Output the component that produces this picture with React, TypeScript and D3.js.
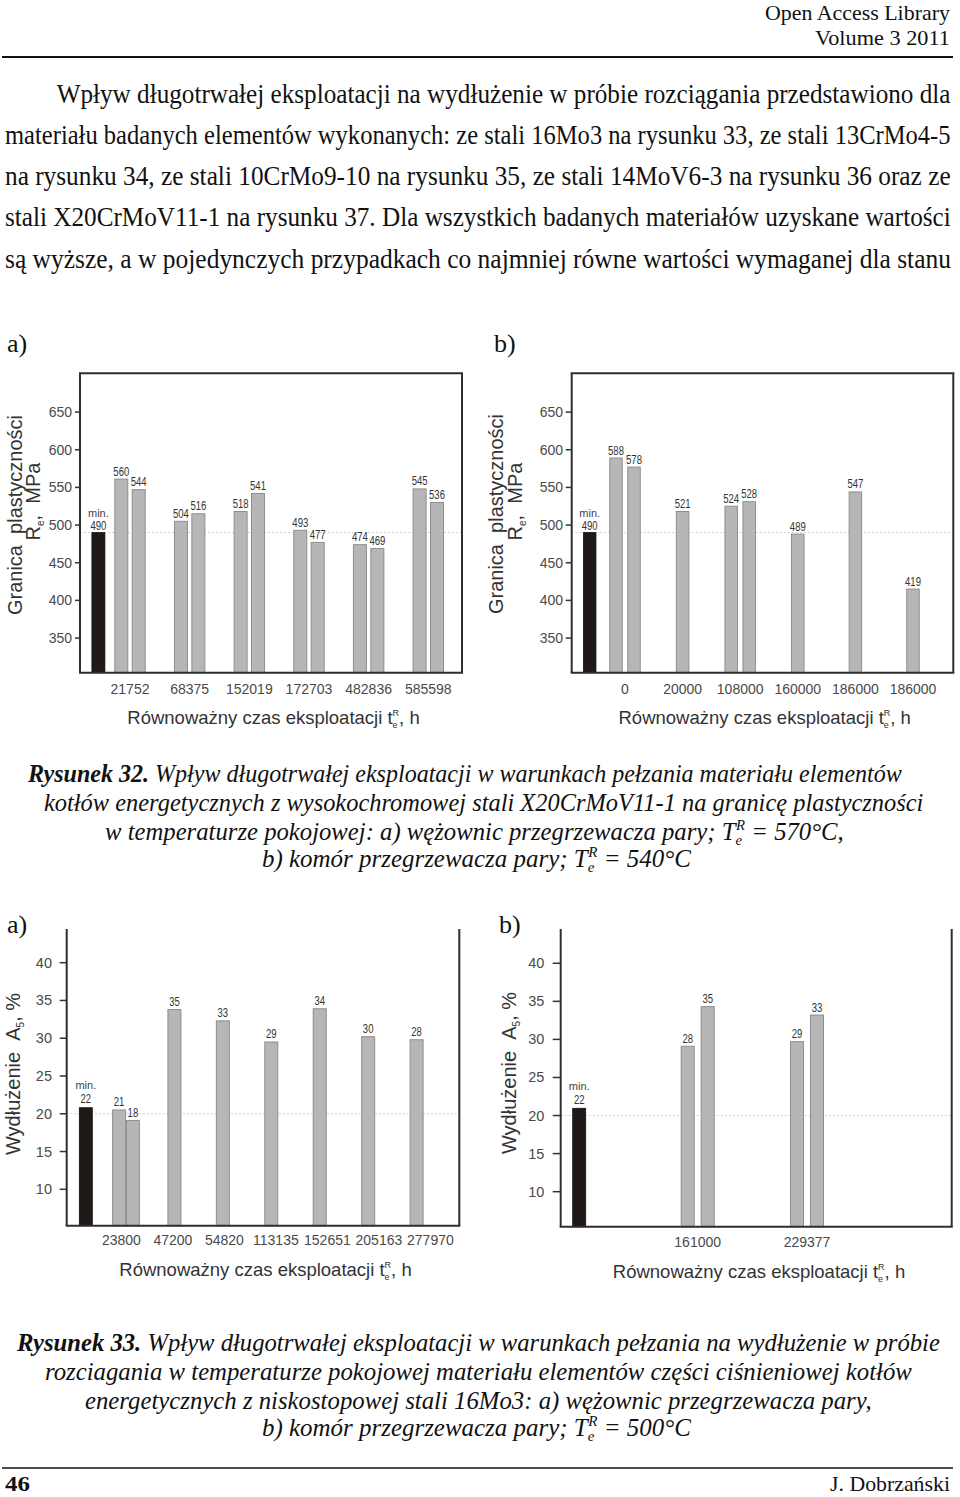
import React, { useLayoutEffect, useRef, useState } from "react";
import * as d3 from "d3";

const SERIF = "'Liberation Serif','Times New Roman',serif";
const SANS = "'Liberation Sans',Arial,sans-serif";

// ---------- DATA ----------
// Rysunek 32 a) granica plastyczności, wężownice
const fig32aCategories = ["21752", "68375", "152019", "172703", "482836", "585598"];
const fig32aLabels = [[560, 544], [504, 516], [518, 541], [493, 477], [474, 469], [545, 536]];
const fig32aHeights = [[561, 547], [505, 515], [518, 542], [493, 477], [474, 469], [548, 530]];
// Rysunek 32 b) komory
const fig32bCategories = ["0", "20000", "108000", "160000", "186000", "186000"];
const fig32bLabels = [[588, 578], [521], [524, 528], [489], [547], [419]];
const fig32bHeights = [[589, 577], [518], [525, 531], [488], [544], [415]];
const reMinLabel = 490;
const reMinHeight = 490;
const reRefLine = 490;
const reTicks = [350, 400, 450, 500, 550, 600, 650];

// Rysunek 33 a) wydłużenie, wężownice
const fig33aCategories = ["23800", "47200", "54820", "113135", "152651", "205163", "277970"];
const fig33aLabels = [[21, 18], [35], [33], [29], [34], [30], [28]];
const fig33aHeights = [[20.5, 19.1], [33.8], [32.3], [29.5], [33.9], [30.2], [29.8]];
const fig33aMinHeight = 20.8;
// Rysunek 33 b) komory
const fig33bCategories = ["161000", "229377"];
const fig33bLabels = [[28, 35], [29, 33]];
const fig33bHeights = [[29.1, 34.3], [29.7, 33.2]];
const fig33bMinHeight = 20.95;
const aMinLabel = 22;
const aRefLine = 20;
const aTicks = [10, 15, 20, 25, 30, 35, 40];

// ---------- TEXT ----------
const bodyLines = [
  "Wpływ długotrwałej eksploatacji na wydłużenie w próbie rozciągania przedstawiono dla",
  "materiału badanych elementów wykonanych: ze stali 16Mo3 na rysunku 33, ze stali 13CrMo4-5",
  "na rysunku 34, ze stali 10CrMo9-10 na rysunku 35, ze stali 14MoV6-3 na rysunku 36 oraz ze",
  "stali X20CrMoV11-1 na rysunku 37. Dla wszystkich badanych materiałów uzyskane wartości",
  "są wyższe, a w pojedynczych przypadkach co najmniej równe wartości wymaganej dla stanu",
];

// Text squeezed horizontally to a given width (page scan is condensed)
function FitText(props: {
  x: number; y: number; width: number; fontSize: number; family?: string;
  italic?: boolean; bold?: boolean; children: React.ReactNode;
}) {
  const ref = useRef<SVGTextElement>(null);
  const [s, setS] = useState(1);
  useLayoutEffect(() => {
    if (ref.current) {
      const w = ref.current.getComputedTextLength();
      if (w > 0) setS(props.width / w);
    }
  }, [props.width]);
  return (
    <text ref={ref} transform={`translate(${props.x},${props.y}) scale(${s},1)`}
      fontFamily={props.family || SERIF} fontSize={props.fontSize}
      fontStyle={props.italic ? "italic" : "normal"} fontWeight={props.bold ? "bold" : "normal"}
      fill="#111">{props.children}</text>
  );
}

type Cfg = {
  categories: string[];
  labels: number[][];
  heights: number[][];
  minLabel: number;
  minHeight: number;
  refLine: number;
  ticks: number[];
  yDomain: [number, number];
  left: number; right: number; top: number; bottom: number;
  topLine: boolean;
  groupRange: [number, number];
  labelRange?: [number, number];
  pairOff: number; barW: number; minX: number;
  tickEnd: number; tickLen: number; tickFont: number;
  xTickY: number;
  xTitle: [number, number];
  yTitleKind: "re" | "a";
  yTitle1: [number, number];
  yTitle2?: [number, number];
  valueFont: number;
  minLabelGap: number; minValueGap: number;
};

function BarChart({ cfg }: { cfg: Cfg }) {
  const y = d3.scaleLinear().domain(cfg.yDomain).range([cfg.bottom, cfg.top]);
  const n = cfg.categories.length;
  const x = d3.scaleLinear().domain([0, Math.max(1, n - 1)]).range(cfg.groupRange);
  const xl = cfg.labelRange ? d3.scaleLinear().domain([0, n - 1]).range(cfg.labelRange) : x;
  const grayFill = "#b6b6b6";
  const grayStroke = "#8e8e8e";
  const bars: { cx: number; h: number; label: number }[] = [];
  cfg.heights.forEach((g, i) => {
    g.forEach((h, j) => {
      const off = g.length === 1 ? 0 : (j === 0 ? -cfg.pairOff : cfg.pairOff);
      bars.push({ cx: x(i) + off, h, label: cfg.labels[i][j] });
    });
  });
  const lblLen = (v: number) => String(v).length * 5.3;
  return (
    <g>
      {/* reference dotted line */}
      <line x1={cfg.left} x2={cfg.right} y1={y(cfg.refLine)} y2={y(cfg.refLine)}
        stroke="#cfcfcf" strokeWidth={1} strokeDasharray="2,2" />
      {/* min bar */}
      <rect x={cfg.minX - cfg.barW / 2} y={y(cfg.minHeight)} width={cfg.barW}
        height={cfg.bottom - y(cfg.minHeight)} fill="#1f1a17" stroke="#111" strokeWidth={0.8} />
      <text x={cfg.minX} y={y(cfg.minHeight) - cfg.minLabelGap} textAnchor="middle"
        fontFamily={SANS} fontSize={11} fill="#444">min.</text>
      <text x={cfg.minX} y={y(cfg.minHeight) - cfg.minValueGap} textAnchor="middle"
        fontFamily={SANS} fontSize={cfg.valueFont} fill="#333"
        textLength={lblLen(cfg.minLabel)} lengthAdjust="spacingAndGlyphs">{cfg.minLabel}</text>
      {bars.map((b, k) => (
        <g key={k}>
          <rect x={b.cx - cfg.barW / 2} y={y(b.h)} width={cfg.barW} height={cfg.bottom - y(b.h)}
            fill={grayFill} stroke={grayStroke} strokeWidth={1} />
          <text x={b.cx} y={y(b.h) - 3.5} textAnchor="middle" fontFamily={SANS}
            fontSize={cfg.valueFont} fill="#333"
            textLength={lblLen(b.label)} lengthAdjust="spacingAndGlyphs">{b.label}</text>
        </g>
      ))}
      {/* frame */}
      <g stroke="#2e2e2e" strokeWidth={2} fill="none">
        <line x1={cfg.left} x2={cfg.left} y1={cfg.top} y2={cfg.bottom} />
        <line x1={cfg.right} x2={cfg.right} y1={cfg.top} y2={cfg.bottom} />
        <line x1={cfg.left - 1} x2={cfg.right + 1} y1={cfg.bottom} y2={cfg.bottom} />
        {cfg.topLine && <line x1={cfg.left - 1} x2={cfg.right + 1} y1={cfg.top} y2={cfg.top} />}
      </g>
      {/* y ticks */}
      {cfg.ticks.map((t) => (
        <g key={t}>
          <line x1={cfg.left - cfg.tickLen} x2={cfg.left} y1={y(t)} y2={y(t)} stroke="#333" strokeWidth={1.5} />
          <text x={cfg.tickEnd} y={y(t) + 5} textAnchor="end" fontFamily={SANS}
            fontSize={cfg.tickFont} fill="#4a4a4a">{t}</text>
        </g>
      ))}
      {/* x tick labels */}
      {cfg.categories.map((c, i) => (
        <text key={i} x={xl(i)} y={cfg.xTickY} textAnchor="middle" fontFamily={SANS}
          fontSize={14} fill="#4a4a4a">{c}</text>
      ))}
      {/* x title */}
      <text x={cfg.xTitle[0]} y={cfg.xTitle[1]} textAnchor="middle" fontFamily={SANS} fontSize={18.5} fill="#333">
        Równoważny czas eksploatacji t
        <tspan fontSize={9} dy={4}>e</tspan>
        <tspan fontSize={9} dx={-5} dy={-12}>R</tspan>
        <tspan dy={8}>, h</tspan>
      </text>
      {/* y title */}
      {cfg.yTitleKind === "re" ? (
        <>
          <text transform={`translate(${cfg.yTitle1[0]},${cfg.yTitle1[1]}) rotate(-90)`} textAnchor="middle"
            fontFamily={SANS} fontSize={20} fill="#333">Granica{"\u00A0\u00A0"}plastyczności</text>
          <text transform={`translate(${cfg.yTitle2![0]},${cfg.yTitle2![1]}) rotate(-90)`} textAnchor="middle"
            fontFamily={SANS} fontSize={20} fill="#333">
            R<tspan fontSize={10} dy={4}>e</tspan><tspan dy={-4}>,{"\u00A0\u00A0"}MPa</tspan>
          </text>
        </>
      ) : (
        <text transform={`translate(${cfg.yTitle1[0]},${cfg.yTitle1[1]}) rotate(-90)`} textAnchor="middle"
          fontFamily={SANS} fontSize={20} fill="#333">
          Wydłużenie{"\u00A0\u00A0"}A<tspan fontSize={10} dy={4}>5</tspan><tspan dy={-4}>,{"\u00A0"}%</tspan>
        </text>
      )}
    </g>
  );
}

const cfg32a: Cfg = {
  categories: fig32aCategories, labels: fig32aLabels, heights: fig32aHeights,
  minLabel: reMinLabel, minHeight: reMinHeight, refLine: reRefLine, ticks: reTicks,
  yDomain: [304, 701.5], left: 80, right: 462, top: 373.3, bottom: 672.7, topLine: true,
  groupRange: [130, 428.3], pairOff: 8.7, barW: 13, minX: 98.4,
  tickEnd: 72, tickLen: 5, tickFont: 14, xTickY: 694, xTitle: [273.5, 724],
  yTitleKind: "re", yTitle1: [22, 515], yTitle2: [40, 501.5], valueFont: 12,
  minLabelGap: 16, minValueGap: 3,
};
const cfg32b: Cfg = {
  categories: fig32bCategories, labels: fig32bLabels, heights: fig32bHeights,
  minLabel: reMinLabel, minHeight: reMinHeight, refLine: reRefLine, ticks: reTicks,
  yDomain: [304, 701.5], left: 571.7, right: 953.3, top: 373.3, bottom: 672.7, topLine: true,
  groupRange: [625, 913], pairOff: 9, barW: 12.5, minX: 589.7,
  tickEnd: 563, tickLen: 6, tickFont: 14, xTickY: 694, xTitle: [764.7, 724],
  yTitleKind: "re", yTitle1: [503, 514], yTitle2: [522, 501.5], valueFont: 12,
  minLabelGap: 16, minValueGap: 3,
};
const cfg33a: Cfg = {
  categories: fig33aCategories, labels: fig33aLabels, heights: fig33aHeights,
  minLabel: aMinLabel, minHeight: fig33aMinHeight, refLine: aRefLine, ticks: aTicks,
  yDomain: [5.18, 44.46], left: 66.7, right: 459.3, top: 929, bottom: 1225.7, topLine: false,
  groupRange: [126, 416.6], labelRange: [121.4, 430.4], pairOff: 6.9, barW: 13, minX: 85.8,
  tickEnd: 52, tickLen: 7, tickFont: 14.5, xTickY: 1245, xTitle: [265.5, 1276],
  yTitleKind: "a", yTitle1: [20, 1074], valueFont: 12,
  minLabelGap: 19, minValueGap: 5,
};
const cfg33b: Cfg = {
  categories: fig33bCategories, labels: fig33bLabels, heights: fig33bHeights,
  minLabel: aMinLabel, minHeight: fig33bMinHeight, refLine: aRefLine, ticks: aTicks,
  yDomain: [5.4, 44.5], left: 560.7, right: 951.7, top: 929, bottom: 1226.7, topLine: false,
  groupRange: [697.7, 807], pairOff: 10, barW: 13, minX: 579.2,
  tickEnd: 544.3, tickLen: 8, tickFont: 14.5, xTickY: 1246.5, xTitle: [759, 1278],
  yTitleKind: "a", yTitle1: [516, 1073], valueFont: 12,
  minLabelGap: 18, minValueGap: 4,
};

function TeR() {
  return (
    <>
      <tspan>T</tspan>
      <tspan fontSize={15} dy={5}>e</tspan>
      <tspan fontSize={15} dx={-6} dy={-15}>R</tspan>
      <tspan dy={10}>{" = "}</tspan>
    </>
  );
}

export default function App() {
  const bodyY = [103, 144, 185, 226, 268];
  const capFont = 25;
  return (
    <svg width={960} height={1497} style={{ position: "absolute", left: 0, top: 0, background: "#fff" }}
      xmlns="http://www.w3.org/2000/svg">
      <rect width={960} height={1497} fill="#fff" />
      {/* header */}
      <FitText x={765} y={20} width={185} fontSize={21}>Open Access Library</FitText>
      <FitText x={815} y={45} width={135} fontSize={21}>Volume 3 2011</FitText>
      <line x1={2} x2={953} y1={57} y2={57} stroke="#111" strokeWidth={2} />

      {/* body */}
      {bodyLines.map((l, i) => (
        <FitText key={i} x={i === 0 ? 56.7 : 5} y={bodyY[i]} fontSize={27}
          width={i === 0 ? 894 : 946}>{l}</FitText>
      ))}

      {/* subfigure labels */}
      <text x={7} y={352} fontFamily={SERIF} fontSize={26} fill="#111">a)</text>
      <text x={494} y={352} fontFamily={SERIF} fontSize={26} fill="#111">b)</text>
      <text x={7} y={933} fontFamily={SERIF} fontSize={26} fill="#111">a)</text>
      <text x={499} y={933} fontFamily={SERIF} fontSize={26} fill="#111">b)</text>

      <BarChart cfg={cfg32a} />
      <BarChart cfg={cfg32b} />
      <BarChart cfg={cfg33a} />
      <BarChart cfg={cfg33b} />

      {/* caption 32 */}
      <FitText x={28} y={782} width={874} fontSize={capFont} italic>
        <tspan fontWeight="bold">Rysunek 32.</tspan> Wpływ długotrwałej eksploatacji w warunkach pełzania materiału elementów
      </FitText>
      <FitText x={44} y={811} width={880} fontSize={capFont} italic>
        kotłów energetycznych z wysokochromowej stali X20CrMoV11-1 na granicę plastyczności
      </FitText>
      <FitText x={105} y={840} width={745} fontSize={capFont} italic>
        w temperaturze pokojowej: a) wężownic przegrzewacza pary; <TeR />570°C,
      </FitText>
      <FitText x={262} y={867} width={435} fontSize={capFont} italic>
        b) komór przegrzewacza pary; <TeR />540°C
      </FitText>

      {/* caption 33 */}
      <FitText x={17} y={1351} width={923} fontSize={capFont} italic>
        <tspan fontWeight="bold">Rysunek 33.</tspan> Wpływ długotrwałej eksploatacji w warunkach pełzania na wydłużenie w próbie
      </FitText>
      <FitText x={45} y={1380} width={867} fontSize={capFont} italic>
        rozciagania w temperaturze pokojowej materiału elementów części ciśnieniowej kotłów
      </FitText>
      <FitText x={85} y={1409} width={787} fontSize={capFont} italic>
        energetycznych z niskostopowej stali 16Mo3: a) wężownic przegrzewacza pary,
      </FitText>
      <FitText x={262} y={1436} width={435} fontSize={capFont} italic>
        b) komór przegrzewacza pary; <TeR />500°C
      </FitText>

      {/* footer */}
      <line x1={2} x2={953} y1={1468} y2={1468} stroke="#111" strokeWidth={1.5} />
      <FitText x={5} y={1491} width={25} fontSize={22} bold>46</FitText>
      <FitText x={830} y={1491} width={120} fontSize={21}>J. Dobrzański</FitText>
    </svg>
  );
}
